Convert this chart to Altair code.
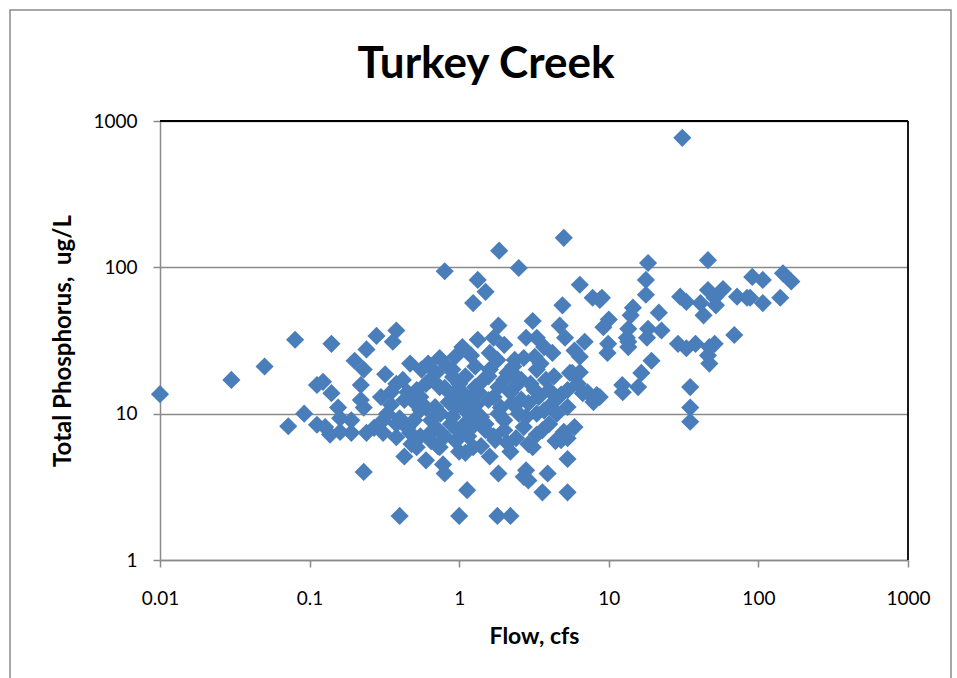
import altair as alt
import pandas as pd

# Turkey Creek: flow (cfs) vs total phosphorus (ug/L)
flow_cfs = [
    0.01, 0.03, 0.05, 0.08, 0.14, 0.072, 0.092, 0.112, 0.123, 0.14, 0.112, 0.127, 0.137, 0.155,
    0.28, 0.38, 0.36, 0.24, 0.2, 0.23, 0.32, 0.22, 0.22, 0.23, 0.47, 0.56, 0.74, 0.83, 0.38, 0.35,
    0.43, 0.52, 0.64, 0.74, 0.91, 0.55, 0.69, 0.31, 0.4, 0.19, 0.16, 0.16, 0.19, 0.24, 0.27, 0.31,
    0.38, 0.43, 0.6, 0.8, 0.23, 0.4, 1.0, 0.52, 0.47, 0.64, 0.74, 0.97,
    0.8, 5.0, 1.85, 2.5, 1.33, 1.5, 1.24, 6.4, 7.8, 9.0, 4.9, 1.83, 3.1, 4.7, 6.9, 1.7, 1.33, 1.05,
    0.94, 2.0, 2.8, 3.3, 3.7, 5.1, 5.9, 3.2, 2.35, 1.8, 1.28, 1.1, 1.57, 2.1, 2.6, 3.3, 4.3, 5.5,
    5.3, 6.2, 4.0, 3.2, 2.35, 1.83, 1.28, 1.05, 1.57, 2.25, 2.9, 4.2, 5.3, 1.2, 1.83, 2.5, 3.3,
    1.13, 1.8, 2.2, 3.6, 5.3, 5.3, 2.7, 3.9, 1.83, 2.8, 5.9, 5.3, 8.3, 6.7, 5.7, 1.1, 1.5, 2.0,
    2.7, 3.6, 4.8, 1.24, 1.74, 2.1, 3.1, 1.1, 1.6, 2.9,
    18.3, 46, 17.7, 17.7, 8.7, 30, 33, 46, 51, 58, 41, 52, 72, 88, 91, 43, 14.5, 14, 21.6, 10,
    9.2, 13.5, 18.3, 13.2, 22.5, 18, 9.9, 13.5, 29, 33, 38, 47, 51, 46, 47, 69, 19.3, 16.5, 15.7,
    12.3, 12.4, 8.7, 35, 35, 35, 107, 146, 166, 140, 107, 84, 31, 9.8, 13.5, 6.4, 6.4, 7.2, 7.9,
    0.42, 0.45, 0.5, 0.55, 0.6, 0.65, 0.7, 0.75, 0.85, 0.9, 0.95, 0.5, 0.45, 0.55, 0.65, 0.72,
    0.8, 0.88, 0.95, 0.6, 0.7, 0.8, 0.9, 0.62, 0.9, 1.0, 1.05, 1.1, 1.2, 1.3, 1.4, 1.5, 1.35,
    1.45, 1.6, 1.7, 1.9, 2.0, 2.2, 2.4, 2.6, 2.8, 3.0, 3.4, 3.7, 4.0, 4.5, 4.8, 2.3, 2.7, 3.5,
    4.2, 1.2, 1.6, 2.0, 3.8, 0.35, 0.38, 0.33, 0.3, 0.48, 1.15, 1.4, 1.7, 2.4, 2.9, 3.3, 4.4,
    5.0, 2.2, 1.25, 0.78, 1.0,
]
phosphorus_ugl = [
    13.6, 17, 21, 32, 30, 8.2, 10, 15.7, 16.5, 13.8, 8.4, 8.1, 7.2, 11,
    34, 37, 31, 27.5, 23, 20, 18.6, 15.7, 12.4, 11, 22, 20, 24, 21, 16, 14,
    12.4, 14.5, 17, 15.2, 17.8, 10.6, 11.1, 9, 9.3, 9, 9.3, 7.5, 7.4, 7.4, 8, 7.4,
    6.9, 5.1, 4.8, 3.9, 4, 2, 2, 5.9, 7.4, 7.4, 5.9, 7.7,
    94, 159, 130, 99, 82, 68, 57, 76, 62, 62, 55, 40, 43, 40, 31, 33, 32, 28.5,
    24.5, 29.5, 33, 33, 28.5, 33, 27, 24.5, 23.3, 23.3, 21, 18, 18, 19, 17, 20, 18, 19,
    14.5, 16, 14.5, 14.5, 15.2, 15.2, 15.2, 14, 12.4, 11.8, 11.8, 11.8, 11.1, 10, 10, 10, 10,
    3, 2, 2, 2.9, 2.9, 4.9, 3.7, 3.9, 3.9, 4.1, 8.1, 6.8, 13.4, 13.8, 19, 8.6, 7.7, 7.7,
    8.1, 7.7, 6.6, 5.9, 6.6, 6.3, 5.9, 5.4, 5.1, 3.5,
    107, 112, 82, 65, 60, 63, 58, 70, 62, 71, 57, 55, 63, 62, 86, 47, 53, 47, 49, 44,
    39, 38, 38, 33, 37, 33, 30, 28.5, 30, 28, 30, 28.5, 30, 25, 22, 34.5, 23, 19, 15.2,
    15.7, 14, 13, 15.2, 11, 8.8, 82, 91, 80, 62, 57, 62, 767, 26, 31, 24.5, 19.2, 14, 12,
    17, 14, 12, 13, 11, 9, 8, 10, 12, 9.5, 11, 9, 8, 7, 6.5, 6,
    7, 8.5, 6.5, 16, 19, 15, 13.5, 22, 20, 16, 12, 10.5, 13, 11.5, 9.5, 8.5, 14,
    17, 20, 13, 11, 9, 14, 18, 12.5, 9.5, 16, 13, 10.5, 8.5, 10, 13.5, 21, 24, 22,
    26, 25, 26, 17, 17, 11.5, 8.5, 10, 13, 6.2, 7, 6, 7, 6.8, 6.2, 7.2, 6.5,
    7.5, 5.5, 8.3, 4.5, 5.5,
]

x_ticks = [0.01, 0.1, 1, 10, 100, 1000]
y_ticks = [1, 10, 100, 1000]
chart_title = "Turkey Creek"

W, H = 748, 439
FONT = "Lato"
GRAY = "#8a8a8a"

df = pd.DataFrame({"flow": flow_cfs, "tp": phosphorus_ugl})

points = alt.Chart(df).mark_point(
    shape="diamond", filled=True, size=330, color="#4A7EBB", opacity=1
).encode(
    x=alt.X(
        "flow:Q",
        scale=alt.Scale(type="log", domain=[0.01, 1000], nice=False),
        axis=alt.Axis(
            values=x_ticks, format="~g", title="Flow, cfs", grid=False,
            labelFontSize=19, labelFont=FONT, labelColor="black", labelPadding=22,
            titleFontSize=23, titleFont=FONT, titleFontWeight="bold", titleColor="black",
            titlePadding=17, domainColor=GRAY, domainWidth=1.5,
            tickColor=GRAY, tickWidth=1.5, tickSize=7, labelFlush=False,
        ),
    ),
    y=alt.Y(
        "tp:Q",
        scale=alt.Scale(type="log", domain=[1, 1000], nice=False),
        axis=alt.Axis(
            values=y_ticks, format="~g", title="Total Phosphorus,\u00a0 ug/L", grid=True,
            gridColor=GRAY, gridWidth=1.5,
            labelFontSize=19, labelFont=FONT, labelColor="black", labelPadding=16,
            titleFontSize=24, titleFont=FONT, titleFontWeight="bold", titleColor="black",
            titlePadding=17, domainColor=GRAY, domainWidth=1.5,
            tickColor=GRAY, tickWidth=1.5, tickSize=7, labelFlush=False,
        ),
    ),
)

one_row = alt.Data(values=[{}])

# top and right edges of the plot frame
top_edge = alt.Chart(one_row).mark_rule(color="black", strokeWidth=1.8).encode(
    x=alt.value(0), x2=alt.value(W), y=alt.value(0)
)
right_edge = alt.Chart(one_row).mark_rule(color="black", strokeWidth=1.8).encode(
    x=alt.value(W), y=alt.value(0), y2=alt.value(H)
)

# outer chart border
border = alt.Chart(one_row).mark_rect(
    fill="transparent", stroke=GRAY, strokeWidth=1.5
).encode(
    x=alt.value(-150), x2=alt.value(791), y=alt.value(-111), y2=alt.value(700)
)

# chart title, centred over the whole chart area
title = alt.Chart(one_row).mark_text(
    text=chart_title, font=FONT, fontSize=44, fontWeight="bold", color="black",
    align="center", baseline="alphabetic",
).encode(x=alt.value(326), y=alt.value(-43))

chart = alt.layer(border, points, top_edge, right_edge, title).properties(
    width=W,
    height=H,
    autosize=alt.AutoSizeParams(type="none"),
    padding={"left": 160, "top": 121, "right": 49, "bottom": 118},
    background="white",
).configure_view(stroke=None)

chart.save("out.html", embed_options={"renderer": "svg", "actions": False})
